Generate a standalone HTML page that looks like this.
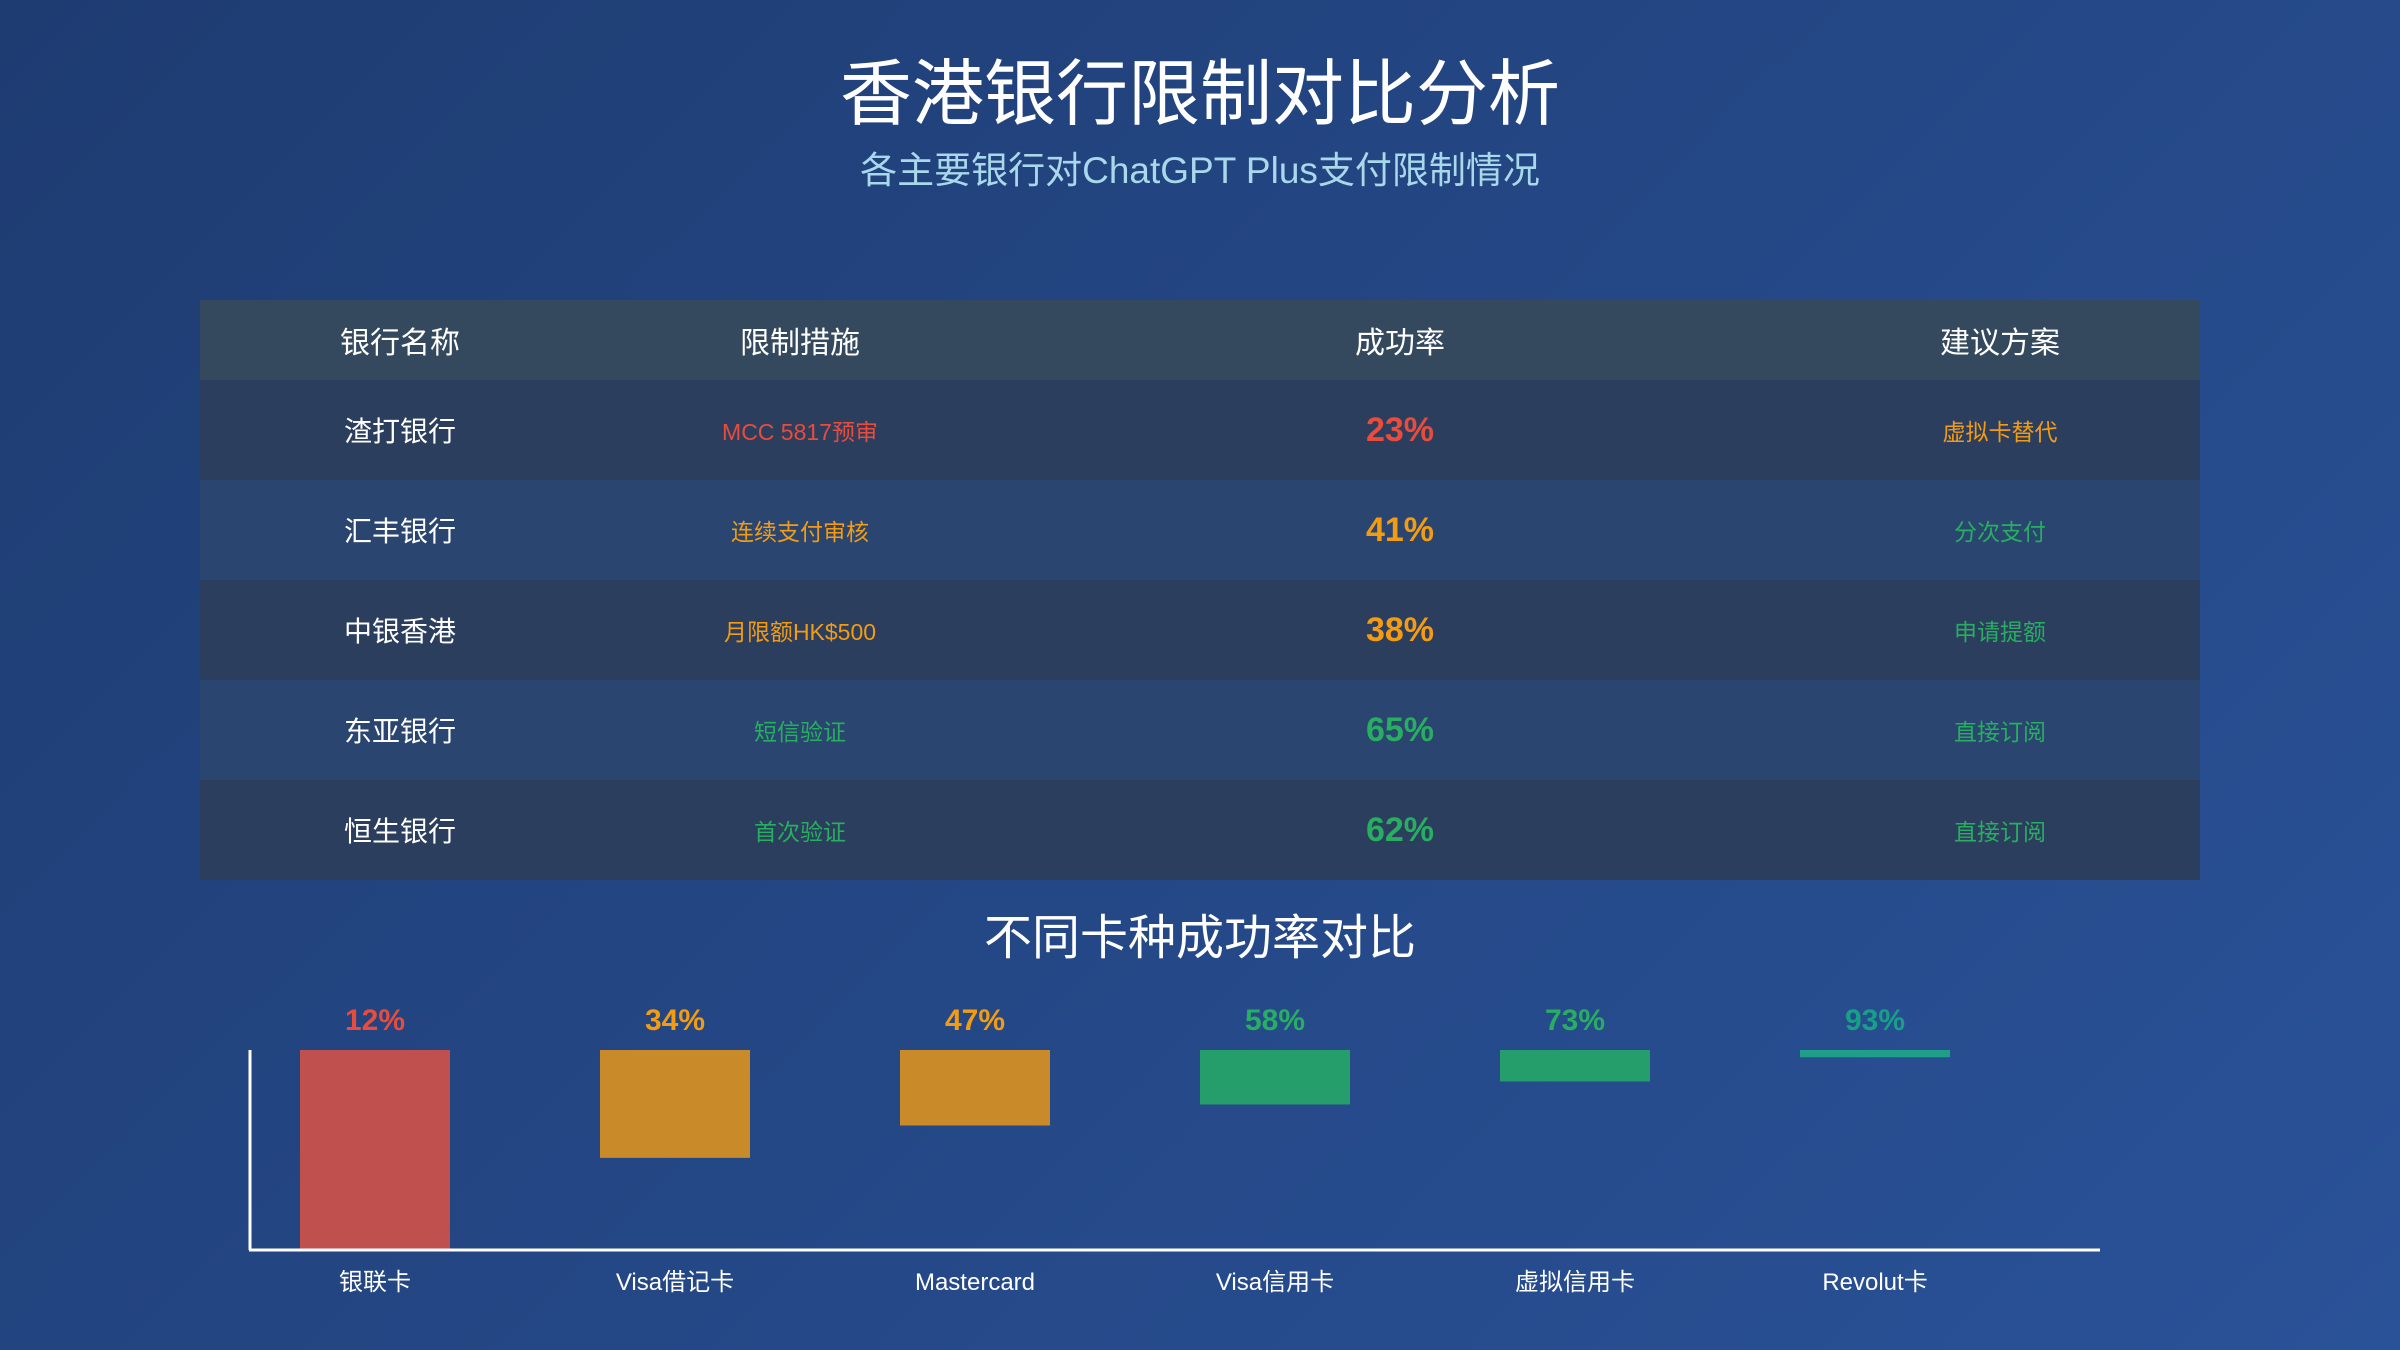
<!DOCTYPE html>
<html><head><meta charset="utf-8">
<style>
*{margin:0;padding:0;box-sizing:border-box}
body{width:2400px;height:1350px;overflow:hidden;background:linear-gradient(135deg,#1e3c72 0%,#2a5298 100%);font-family:"Liberation Sans","Noto Sans CJK SC",sans-serif;color:#fff;position:relative}
.title{position:absolute;top:50px;width:100%;text-align:center;font-size:72px;line-height:90px}
.sub{position:absolute;top:140px;width:100%;text-align:center;font-size:37px;color:#a8d8ea}
table{position:absolute;left:200px;top:300px;width:2000px;border-collapse:collapse;table-layout:fixed}
th{height:80px;background:#34495e;font-weight:normal;font-size:30px;color:#fff}
td{height:100px;text-align:center;font-size:23px}
tr.o td{background:#2c3e5e}
tr.e td{background:#2a4670}
td.bank{font-size:28px;color:#fff}
td.rate{font-size:34px;font-weight:bold}
.r{color:#e74c3c}.y{color:#f39c12}.g{color:#27ae60}
.ctitle{position:absolute;top:898px;width:100%;text-align:center;font-size:48px}
</style></head><body>
<div class="title">香港银行限制对比分析</div>
<div class="sub">各主要银行对ChatGPT Plus支付限制情况</div>
<table>
<colgroup><col style="width:400px"><col style="width:400px"><col style="width:800px"><col style="width:400px"></colgroup>
<tr><th>银行名称</th><th>限制措施</th><th>成功率</th><th>建议方案</th></tr>
<tr class="o"><td class="bank">渣打银行</td><td class="r">MCC 5817预审</td><td class="rate r">23%</td><td class="y">虚拟卡替代</td></tr>
<tr class="e"><td class="bank">汇丰银行</td><td class="y">连续支付审核</td><td class="rate y">41%</td><td class="g">分次支付</td></tr>
<tr class="o"><td class="bank">中银香港</td><td class="y">月限额HK$500</td><td class="rate y">38%</td><td class="g">申请提额</td></tr>
<tr class="e"><td class="bank">东亚银行</td><td class="g">短信验证</td><td class="rate g">65%</td><td class="g">直接订阅</td></tr>
<tr class="o"><td class="bank">恒生银行</td><td class="g">首次验证</td><td class="rate g">62%</td><td class="g">直接订阅</td></tr>
</table>
<div class="ctitle">不同卡种成功率对比</div>
<svg id="chart" width="2400" height="1350" style="position:absolute;left:0;top:0"></svg>
<script>
const categories=["银联卡","Visa借记卡","Mastercard","Visa信用卡","虚拟信用卡","Revolut卡"];
const values=[12,34,47,58,73,93];
const barColors=["#c0504d","#c98a2a","#c98a2a","#259e6c","#259e6c","#1f9e8a"];
const labelColors=["#e74c3c","#f39c12","#f39c12","#27ae60","#27ae60","#16a085"];
const svg=document.getElementById('chart');
const NS='http://www.w3.org/2000/svg';
const top0=1050, base=1249, x0=375, step=300, bw=150;
function xPos(i){return x0+i*step;}
function hScale(v){return Math.min(base-top0, 100*Math.log(100/v));}
function mk(t,a){const e=document.createElementNS(NS,t);for(const k in a)e.setAttribute(k,a[k]);svg.appendChild(e);return e;}
values.forEach((v,i)=>{
  const r=mk('rect',{x:xPos(i)-bw/2,y:top0,width:bw,height:hScale(v),fill:barColors[i]});
  
  
  const t=mk('text',{x:xPos(i),y:1030,'text-anchor':'middle','font-size':30,'font-weight':'bold',fill:labelColors[i],'font-family':'Liberation Sans, sans-serif'});
  t.textContent=v+'%';
  
  
  const c=mk('text',{x:xPos(i),y:1290,'text-anchor':'middle','font-size':24,fill:'#fff','font-family':'Liberation Sans, Noto Sans CJK SC, sans-serif'});
  c.textContent=categories[i];
  
  
});
const ya=mk('line',{x1:250,y1:1050,x2:250,y2:1250,stroke:'#fff','stroke-width':3});


const xa=mk('line',{x1:249,y1:1250,x2:2100,y2:1250,stroke:'#fff','stroke-width':3});


</script>
</body></html>
